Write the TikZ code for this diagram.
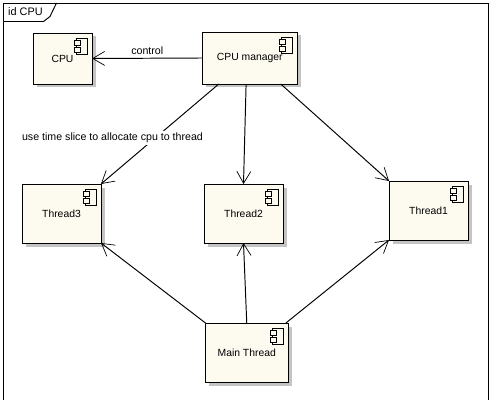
\documentclass[tikz,border=0pt]{standalone}
\usepackage{fontspec}
\setmainfont{Liberation Sans}
\usetikzlibrary{arrows.meta, backgrounds}
\definecolor{compfill}{HTML}{FDFBF0}
\definecolor{compshadow}{HTML}{C4C4C4}

\begin{document}
\begin{tikzpicture}[
  line width=0.55pt,
  component/.style={rectangle, draw=black, fill=compfill, inner sep=0pt, outer sep=0pt,
                    minimum width=1.58cm, minimum height=1.18cm, align=center,
                    font=\fontsize{5.9}{7}\selectfont},
  uses/.style={-{Straight Barb[length=2.4mm, width=2.8mm, line width=0.4pt]}},
  lbl/.style={inner sep=1pt, font=\fontsize{6.05}{7}\selectfont},
]
  \useasboundingbox (0,0) rectangle (9.96,-8);

  % frame and tab
  \draw (0.065,-8) -- (0.065,-0.06) -- (9.77,-0.06) -- (9.77,-8);
  \draw (0.065,-0.43) -- (0.87,-0.43) -- (1.0,-0.33) -- (1.13,-0.06);
  \node[lbl, font=\fontsize{6.2}{7}\selectfont] (frametitle) at (0.51,-0.24) {id CPU};

  \node[component, minimum width=1.18cm, minimum height=1.02cm] (cpu) at (1.25,-1.17) {CPU};
  \node[component, minimum width=1.89cm, minimum height=1.04cm] (manager) at (4.995,-1.16) {CPU manager};
  \node[component] (thread3) at (1.23,-4.27) {Thread3};
  \node[component] (thread2) at (4.87,-4.27) {Thread2};
  \node[component] (thread1) at (8.57,-4.21) {Thread1};
  \node[component, minimum width=1.65cm] (mainthread) at (4.935,-7.05) {Main Thread};

  \foreach \comp in {cpu, manager, thread3, thread2, thread1, mainthread} {
    \draw[line width=0.45pt] ([shift={(-0.32,-0.106)}]\comp.north east) rectangle ++(0.226,-0.32);
    \draw[line width=0.45pt, fill=compfill] ([shift={(-0.36,-0.14)}]\comp.north east) rectangle ++(0.134,-0.1);
    \draw[line width=0.45pt, fill=compfill] ([shift={(-0.36,-0.294)}]\comp.north east) rectangle ++(0.134,-0.092);
  }

  \begin{scope}[on background layer]
    \fill[white] (0,0) rectangle (9.96,-8);
    \foreach \comp in {cpu, manager, thread3, thread2, thread1, mainthread} {
      \fill[compshadow] ([shift={(0.07,-0.07)}]\comp.south west) rectangle ([shift={(0.07,-0.07)}]\comp.north east);
    }
  \end{scope}

  \draw[uses] (manager.west) -- node[above, lbl, pos=0.5, yshift=1pt]{control} (cpu.east);
  \draw[uses] (manager.-140.7) -- (thread3.north east);
  \draw[uses] (manager.-98) -- (thread2.north);
  \draw[uses] (manager.-40) -- (thread1.north west);
  \draw[uses] (mainthread.north west) -- (thread3.south east);
  \draw[uses] (mainthread.north) -- (thread2.south);
  \draw[uses] (mainthread.37) -- (thread1.south west);

  \node[lbl, fill=white] (slicelabel) at (2.25,-2.76) {use time slice to allocate cpu to thread};
\end{tikzpicture}
\end{document}
